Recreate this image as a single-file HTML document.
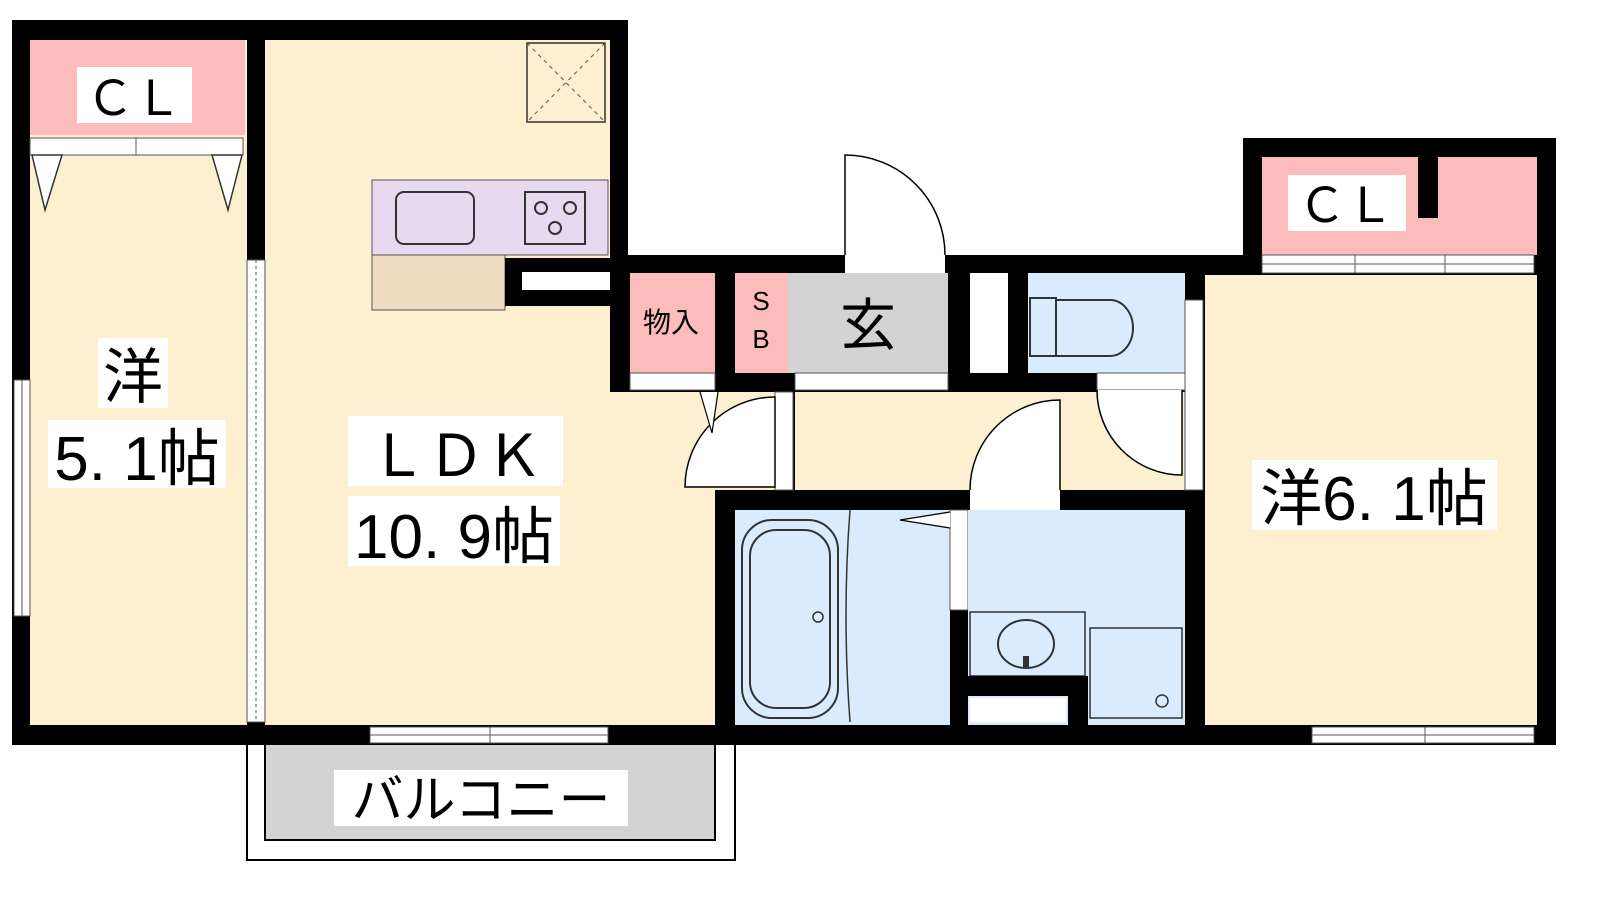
<!DOCTYPE html>
<html><head><meta charset="utf-8"><style>
html,body{margin:0;padding:0;background:#fff;width:1600px;height:900px;overflow:hidden}
svg text{font-family:"Liberation Sans","Noto Sans CJK JP",sans-serif}
</style></head><body>
<svg width="1600" height="900" viewBox="0 0 1600 900" xmlns="http://www.w3.org/2000/svg">
<!-- balcony -->
<rect x="247" y="740" width="488" height="120" fill="#fff" stroke="#000" stroke-width="2"/>
<rect x="265" y="742" width="450" height="98" fill="#d3d3d3" stroke="#000" stroke-width="2"/>
<rect x="334" y="770" width="294" height="56" fill="#fff"/>
<text x="481" y="818" font-size="52" text-anchor="middle">バルコニー</text>

<!-- black outer masses -->
<rect x="12" y="20" width="616" height="725" fill="#000"/>
<rect x="610" y="255" width="650" height="490" fill="#000"/>
<rect x="1243" y="138" width="313" height="607" fill="#000"/>

<!-- left room -->
<rect x="30" y="40" width="217" height="685" fill="#fdf0d0"/>
<rect x="30" y="40" width="215" height="95" fill="#fdbcbc"/>
<rect x="30" y="138" width="213" height="17" fill="#fff" stroke="#555" stroke-width="1"/>
<line x1="136" y1="138" x2="136" y2="155" stroke="#555"/>
<path d="M32 155 L62 155 L45 210 Z M212 155 L242 155 L228 210 Z" fill="#fff" stroke="#333" stroke-width="1.5"/>
<rect x="77" y="67" width="115" height="56" fill="#fff"/>
<text x="134" y="115" font-size="48" text-anchor="middle">ＣＬ</text>
<rect x="98" y="338" width="70" height="70" fill="#fff"/>
<text x="133" y="398" font-size="60" text-anchor="middle">洋</text>
<rect x="48" y="420" width="178" height="68" fill="#fff"/>
<text x="137" y="480" font-size="62" text-anchor="middle">5. 1帖</text>
<rect x="14" y="380" width="16" height="236" fill="#fff" stroke="#555"/>
<line x1="22" y1="380" x2="22" y2="616" stroke="#555"/>

<!-- LDK -->
<rect x="265" y="40" width="345" height="685" fill="#fdf0d0"/>
<rect x="610" y="392" width="105" height="333" fill="#fdf0d0"/>
<rect x="247" y="260" width="18" height="462" fill="#fff" stroke="#555"/>
<line x1="256" y1="260" x2="256" y2="722" stroke="#555" stroke-dasharray="3 3"/>
<rect x="527" y="43" width="78" height="79" fill="none" stroke="#333" stroke-width="1.5"/>
<path d="M527 43 L605 122 M605 43 L527 122" stroke="#555" stroke-dasharray="4 4"/>
<rect x="372" y="180" width="236" height="75" fill="#e8d8f0" stroke="#555"/>
<rect x="396" y="192" width="78" height="52" rx="8" fill="none" stroke="#333" stroke-width="2"/>
<rect x="525" y="192" width="60" height="52" fill="none" stroke="#333" stroke-width="2"/>
<circle cx="541" cy="208" r="6" fill="none" stroke="#333" stroke-width="2"/>
<circle cx="570" cy="208" r="6" fill="none" stroke="#333" stroke-width="2"/>
<circle cx="555" cy="228" r="6" fill="none" stroke="#333" stroke-width="2"/>
<rect x="372" y="255" width="133" height="55" fill="#f0dcc0" stroke="#555"/>
<rect x="505" y="258" width="105" height="48" fill="#000"/>
<rect x="522" y="272" width="88" height="18" fill="#fff"/>
<rect x="348" y="416" width="215" height="70" fill="#fff"/>
<text x="456" y="476" font-size="58" text-anchor="middle">ＬＤＫ</text>
<rect x="348" y="496" width="212" height="70" fill="#fff"/>
<text x="454" y="558" font-size="62" text-anchor="middle">10. 9帖</text>
<rect x="370" y="727" width="238" height="16" fill="#fff" stroke="#555"/>
<line x1="370" y1="735" x2="608" y2="735" stroke="#555"/>
<line x1="490" y1="727" x2="490" y2="743" stroke="#555"/>

<!-- entry / storage -->
<rect x="630" y="273" width="85" height="100" fill="#fdbcbc"/>
<text x="671" y="332" font-size="28" text-anchor="middle">物入</text>
<rect x="735" y="273" width="53" height="100" fill="#fdbcbc"/>
<text x="761" y="310" font-size="26" text-anchor="middle">S</text>
<text x="761" y="348" font-size="26" text-anchor="middle">B</text>
<rect x="788" y="273" width="160" height="100" fill="#d3d3d3"/>
<text x="868" y="345" font-size="56" text-anchor="middle">玄</text>
<rect x="630" y="373" width="85" height="17" fill="#fff" stroke="#555"/>
<rect x="795" y="373" width="153" height="17" fill="#fff" stroke="#555"/>
<rect x="845" y="255" width="100" height="18" fill="#fff"/>
<path d="M845 255 L845 155 A100 100 0 0 1 945 255" fill="#fff" stroke="#000" stroke-width="1.5"/>
<!-- corridor -->
<rect x="795" y="392" width="390" height="98" fill="#fdf0d0"/>
<rect x="715" y="392" width="60" height="98" fill="#fdf0d0"/>
<rect x="775" y="392" width="18" height="98" fill="#fff" stroke="#555"/>
<path d="M775 397 A90 90 0 0 0 685 487 L775 487 Z" fill="#fff" stroke="#000" stroke-width="1.5"/>
<path d="M700 392 L712 433 L718 392" fill="#fff" stroke="#000" stroke-width="1.2"/>
<rect x="970" y="273" width="38" height="100" fill="#fff"/>
<rect x="1028" y="273" width="157" height="100" fill="#d9ebfc"/>
<rect x="1030" y="298" width="26" height="58" fill="none" stroke="#333" stroke-width="2"/>
<path d="M1056 300 L1110 300 A23 28 0 0 1 1110 356 L1056 356 Z" fill="none" stroke="#333" stroke-width="2"/>
<rect x="1097" y="373" width="88" height="17" fill="#fff" stroke="#555"/>
<path d="M1097 390 A85 85 0 0 0 1182 475 L1182 390" fill="#fff" stroke="#000" stroke-width="1.5"/>
<rect x="1185" y="300" width="18" height="190" fill="#fff" stroke="#555"/>
<!-- bath -->
<rect x="735" y="510" width="215" height="215" fill="#d9ebfc"/>
<rect x="742" y="520" width="96" height="198" rx="30" fill="#d9ebfc" stroke="#333" stroke-width="2"/>
<rect x="750" y="530" width="80" height="178" rx="26" fill="none" stroke="#333" stroke-width="2"/>
<circle cx="818" cy="617" r="5" fill="none" stroke="#333" stroke-width="1.5"/>
<path d="M850 510 Q842 615 850 722" fill="none" stroke="#333" stroke-width="1.5"/>
<rect x="950" y="510" width="18" height="100" fill="#fff" stroke="#555"/>
<path d="M950 512 L900 520 L950 528" fill="#fff" stroke="#000" stroke-width="1.2"/>
<!-- washroom -->
<rect x="968" y="510" width="217" height="215" fill="#d9ebfc"/>
<rect x="970" y="490" width="90" height="20" fill="#fff"/>
<path d="M970 490 A90 90 0 0 1 1060 400 L1060 490" fill="#fff" stroke="#000" stroke-width="1.5"/>
<rect x="970" y="612" width="115" height="64" fill="#d9ebfc" stroke="#333" stroke-width="1.5"/>
<ellipse cx="1026" cy="644" rx="28" ry="24" fill="none" stroke="#333" stroke-width="2"/>
<rect x="1023" y="656" width="6" height="12" fill="#333"/>
<rect x="1090" y="628" width="92" height="90" fill="none" stroke="#333" stroke-width="1.5"/>
<circle cx="1162" cy="701" r="6" fill="none" stroke="#333" stroke-width="1.5"/>
<rect x="968" y="676" width="120" height="20" fill="#000"/>
<rect x="1068" y="676" width="20" height="50" fill="#000"/>
<rect x="970" y="698" width="96" height="24" fill="#fff"/>

<!-- right room -->
<rect x="1205" y="275" width="332" height="450" fill="#fdf0d0"/>
<rect x="1262" y="157" width="275" height="98" fill="#fdbcbc"/>
<rect x="1418" y="150" width="20" height="68" fill="#000"/>
<rect x="1262" y="255" width="272" height="18" fill="#fff" stroke="#555"/>
<line x1="1262" y1="264" x2="1534" y2="264" stroke="#555"/>
<line x1="1355" y1="255" x2="1355" y2="273" stroke="#555"/>
<line x1="1445" y1="255" x2="1445" y2="273" stroke="#555"/>
<rect x="1288" y="175" width="118" height="56" fill="#fff"/>
<text x="1346" y="222" font-size="48" text-anchor="middle">ＣＬ</text>
<rect x="1252" y="460" width="245" height="70" fill="#fff"/>
<text x="1374" y="520" font-size="62" text-anchor="middle">洋6. 1帖</text>
<rect x="1312" y="727" width="222" height="16" fill="#fff" stroke="#555"/>
<line x1="1312" y1="735" x2="1534" y2="735" stroke="#555"/>
<line x1="1425" y1="727" x2="1425" y2="743" stroke="#555"/>
</svg>
</body></html>
